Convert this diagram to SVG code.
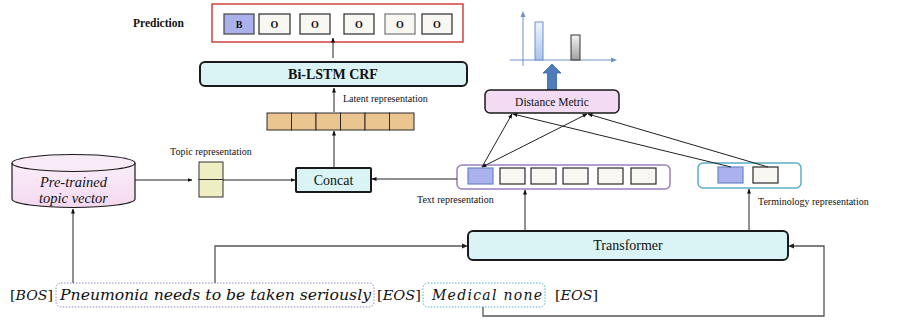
<svg xmlns="http://www.w3.org/2000/svg" width="905" height="325" viewBox="0 0 905 325">
<defs>
<marker id="ah" viewBox="0 0 10 10" refX="9" refY="5" markerWidth="5" markerHeight="5" orient="auto-start-reverse"><path d="M0,1 L10,5 L0,9 z" fill="#111"/></marker>
<linearGradient id="gb" x1="0" y1="0" x2="0" y2="1"><stop offset="0" stop-color="#f0f4ff"/><stop offset="1" stop-color="#a9c4f0"/></linearGradient>
<linearGradient id="gg" x1="0" y1="0" x2="0" y2="1"><stop offset="0" stop-color="#f4f4f4"/><stop offset="1" stop-color="#a0a0a0"/></linearGradient>
<linearGradient id="gcy" x1="0" y1="0" x2="0" y2="1"><stop offset="0" stop-color="#fbeefa"/><stop offset="1" stop-color="#f3d8ef"/></linearGradient>
</defs>
<style>
.t{font-family:"Liberation Serif",serif;fill:#111}
.m{font-family:"DejaVu Serif","Liberation Serif",serif;font-style:italic;fill:#111}
.cy{fill:#daf4f5;stroke:#1a1a1a;stroke-width:2}
.cell{fill:#f9f7f2;stroke:#2a2a2a;stroke-width:1.2}
.blue{fill:#aab1ec;stroke:#6a86c8;stroke-width:1.2}
.tan{fill:#ebc590;stroke:#2a2a2a;stroke-width:1}
.ln{fill:none;stroke:#222;stroke-width:1}
.gl{fill:none;stroke:#555;stroke-width:1.3}
.ax{stroke:#6f92c6;stroke-width:1}
</style>

<g id="prediction">
<text class="t" x="133" y="27" font-size="11.5" font-weight="bold">Prediction</text>
<rect x="212" y="4" width="251" height="38" fill="#fff" stroke="#d44040" stroke-width="1.5"/>
<rect class="blue" x="224" y="14" width="30" height="20" style="stroke:#444"/>
<text class="t" x="239" y="28" font-size="10" font-weight="bold" text-anchor="middle">B</text>
<rect class="cell" x="259" y="14" width="31" height="20"/><text class="t" x="274.5" y="28" font-size="10" font-weight="bold" text-anchor="middle">O</text>
<rect class="cell" x="300" y="14" width="30" height="20"/><text class="t" x="315" y="28" font-size="10" font-weight="bold" text-anchor="middle">O</text>
<rect class="cell" x="344" y="14" width="30" height="20"/><text class="t" x="359" y="28" font-size="10" font-weight="bold" text-anchor="middle">O</text>
<rect class="cell" x="385" y="14" width="30" height="20" style="stroke:#777"/><text class="t" x="400" y="28" font-size="10" font-weight="bold" text-anchor="middle">O</text>
<rect class="cell" x="422" y="14" width="30" height="20"/><text class="t" x="437" y="28" font-size="10" font-weight="bold" text-anchor="middle">O</text>
</g>

<g id="bilstm">
<rect class="cy" x="200" y="62" width="267" height="24" rx="5"/>
<text class="t" x="333" y="79" font-size="14" font-weight="bold" text-anchor="middle">Bi-LSTM CRF</text>
</g>

<g id="latent">
<text class="t" x="343" y="102" font-size="10">Latent representation</text>
<rect class="tan" x="267" y="113" width="24.5" height="17"/>
<rect class="tan" x="291.5" y="113" width="24.5" height="17"/>
<rect class="tan" x="316" y="113" width="24.5" height="17"/>
<rect class="tan" x="340.5" y="113" width="24.5" height="17"/>
<rect class="tan" x="365" y="113" width="24.5" height="17"/>
<rect class="tan" x="389.5" y="113" width="24.5" height="17"/>
</g>

<g id="concat">
<rect class="cy" x="296" y="168" width="75" height="24" rx="1"/>
<text class="t" x="333.5" y="185" font-size="14" text-anchor="middle">Concat</text>
</g>

<g id="topic">
<text class="t" x="170" y="155" font-size="10">Topic representation</text>
<rect x="199" y="162" width="24" height="17.5" fill="#eeeec2" stroke="#333" stroke-width="1"/>
<rect x="199" y="179.5" width="24" height="17.5" fill="#eeeec2" stroke="#333" stroke-width="1"/>
</g>

<g id="cylinder">
<path d="M12,163 L12,199 A61.5,8.5 0 0 0 135,199 L135,163" fill="url(#gcy)" stroke="#1a1a1a" stroke-width="1.2"/>
<ellipse cx="73.5" cy="163" rx="61.5" ry="8.5" fill="#f9eaf7" stroke="#1a1a1a" stroke-width="1.2"/>
<text class="t" x="73.5" y="187" font-size="14.5" font-style="italic" text-anchor="middle">Pre-trained</text>
<text class="t" x="73.5" y="203" font-size="14.5" font-style="italic" text-anchor="middle">topic vector</text>
</g>

<g id="chart">
<line class="ax" x1="523" y1="66" x2="523" y2="15"/>
<path d="M523,11 L520.5,17 L525.5,17 z" fill="#6f92c6"/>
<line class="ax" x1="510" y1="60" x2="612" y2="60"/>
<path d="M617,60 L611,57.5 L611,62.5 z" fill="#6f92c6"/>
<rect x="535" y="22" width="8" height="38" fill="url(#gb)" stroke="#6f92c6" stroke-width="1"/>
<rect x="571" y="35" width="9" height="25" fill="url(#gg)" stroke="#333" stroke-width="1"/>
<path d="M547.5,90 L547.5,73 L543,73 L552,64 L561,73 L556.5,73 L556.5,90 z" fill="#4e7cbd" stroke="#3a64a0" stroke-width="0.8"/>
</g>

<g id="distance">
<rect x="485" y="90" width="134" height="23" rx="5" fill="#f3dbf3" stroke="#1a1a1a" stroke-width="1.5"/>
<text class="t" x="552" y="106" font-size="11.5" text-anchor="middle">Distance Metric</text>
</g>

<g id="textrep">
<rect x="457" y="165" width="213" height="24" rx="5" fill="#fff" stroke="#9a80c0" stroke-width="1.5"/>
<rect class="blue" x="468" y="168" width="25" height="16"/>
<rect class="cell" x="500" y="168" width="25" height="16"/>
<rect class="cell" x="531" y="168" width="25" height="16"/>
<rect class="cell" x="563" y="168" width="25" height="16"/>
<rect class="cell" x="598" y="168" width="25" height="16"/>
<rect class="cell" x="631" y="168" width="25" height="16"/>
<text class="t" x="417" y="203" font-size="10">Text representation</text>
</g>

<g id="termrep">
<rect x="698" y="163" width="103" height="25" rx="5" fill="#fff" stroke="#5aaec6" stroke-width="1.5"/>
<rect class="blue" x="718" y="167" width="25" height="16"/>
<rect class="cell" x="753" y="167" width="25" height="16"/>
<text class="t" x="758" y="205" font-size="10">Terminology representation</text>
</g>

<g id="transformer">
<rect class="cy" x="468" y="231" width="320" height="29" rx="5"/>
<text class="t" x="628" y="250" font-size="14" text-anchor="middle">Transformer</text>
</g>

<g id="input">
<text class="m" x="10" y="300" font-size="13.5" textLength="43" lengthAdjust="spacingAndGlyphs" style="font-style:normal">[<tspan font-style="italic">BOS</tspan>]</text>
<rect x="56" y="283" width="318" height="24" rx="5" fill="none" stroke="#9a86c0" stroke-width="1" stroke-dasharray="1.5,1.5"/>
<text class="m" x="60" y="300" font-size="14" textLength="311" lengthAdjust="spacingAndGlyphs">Pneumonia needs to be taken seriously</text>
<text class="m" x="377" y="300" font-size="13.5" textLength="44" lengthAdjust="spacingAndGlyphs" style="font-style:normal">[<tspan font-style="italic">EOS</tspan>]</text>
<rect x="423" y="283" width="122" height="24" rx="5" fill="none" stroke="#5aaec6" stroke-width="1" stroke-dasharray="1.5,1.5"/>
<text class="m" x="432" y="300" font-size="14" textLength="110" lengthAdjust="spacing">Medical  none</text>
<text class="m" x="555" y="300" font-size="13.5" textLength="43" lengthAdjust="spacingAndGlyphs" style="font-style:normal">[<tspan font-style="italic">EOS</tspan>]</text>
</g>

<g id="connectors">
<line class="ln" x1="333" y1="58" x2="333" y2="38" marker-end="url(#ah)"/>
<line class="ln" x1="334" y1="112" x2="334" y2="88" marker-end="url(#ah)"/>
<line class="ln" x1="334" y1="168" x2="334" y2="131" marker-end="url(#ah)"/>
<line class="ln" x1="135" y1="180" x2="192" y2="180" marker-end="url(#ah)"/>
<line class="ln" x1="223" y1="180" x2="295" y2="180" marker-end="url(#ah)"/>
<line class="ln" x1="457" y1="179" x2="372" y2="179" marker-end="url(#ah)"/>
<line class="ln" x1="73" y1="283" x2="73" y2="209" marker-end="url(#ah)"/>
<line class="ln" x1="525" y1="231" x2="525" y2="190" marker-end="url(#ah)"/>
<line class="ln" x1="749" y1="231" x2="749" y2="189" marker-end="url(#ah)"/>
<polyline class="gl" points="215,283 215,246 466,246"/>
<path d="M468,246 L462,243.5 L462,248.5 z" fill="#222"/>
<polyline class="gl" points="483,307 483,316 824,316 824,246 790,246"/>
<path d="M788,246 L794,243.5 L794,248.5 z" fill="#222"/>
<line class="ln" x1="482" y1="167" x2="512" y2="114" marker-end="url(#ah)"/>
<line class="ln" x1="482" y1="167" x2="587" y2="114" marker-end="url(#ah)" marker-start="url(#ah)"/>
<line class="ln" x1="731" y1="167" x2="513" y2="114" marker-end="url(#ah)"/>
<line class="ln" x1="768" y1="167" x2="588" y2="114" marker-end="url(#ah)"/>
</g>
</svg>
